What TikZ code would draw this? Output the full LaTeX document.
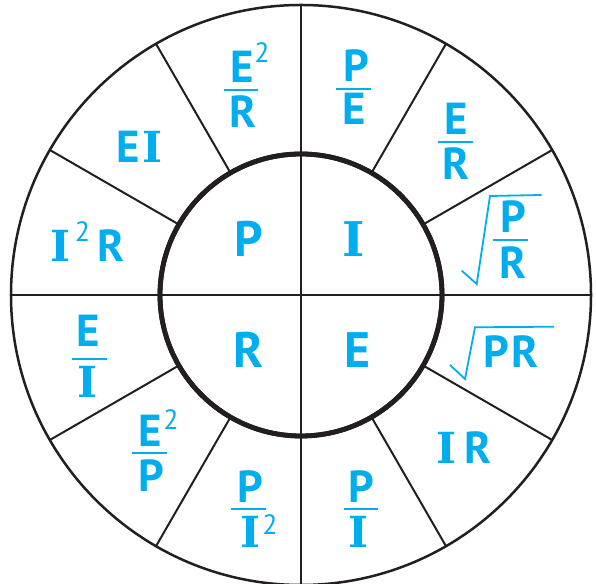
\documentclass[tikz,border=0pt]{standalone}
\usepackage{fontspec}
\setmainfont{PT Sans}
\newfontfamily\serifI{DejaVu Serif}
\definecolor{ohm}{RGB}{0,174,239}
\definecolor{ink}{RGB}{35,31,32}
\tikzset{
  ring/.style={circle, draw=ink, inner sep=0pt, outer sep=0pt},
  divider/.style={draw=ink, line width=2bp},
  let/.style={text=ohm, inner sep=0pt, anchor=base, font=\bfseries\fontsize{45}{45}\selectfont},
  bigl/.style={let, font=\bfseries\fontsize{50}{50}\selectfont},
  seri/.style={text=ohm, inner sep=0pt, anchor=base, font=\serifI\bfseries\fontsize{43}{43}\selectfont},
  bigseri/.style={seri, font=\serifI\bfseries\fontsize{48}{48}\selectfont},
  sq/.style={text=ohm, inner sep=0pt, anchor=base, font=\fontsize{28}{28}\selectfont},
  fbar/.style={draw=ohm, line width=2.8bp},
  rad/.style={draw=ohm, line width=1.8bp, line join=miter},
}
\begin{document}
\begin{tikzpicture}[x=1bp, y=1bp]
\useasboundingbox (0,0) rectangle (596,584);
\fill[white] (0,0) rectangle (596,584);
\coordinate (O) at (301,289);
% rings
\node[ring, line width=2.5bp, minimum size=580bp] (outer) at (O) {};
\node[ring, line width=4.8bp, minimum size=282bp] (inner) at (O) {};
% dividers
\draw[divider] (outer.west) -- (outer.east);
\draw[divider] (outer.north) -- (outer.south);
\foreach \a in {30,60,120,150,210,240,300,330}
  \draw[divider] (inner.\a) -- (outer.\a);
% redraw inner ring on top
\node[ring, line width=4.8bp, minimum size=282bp] (innertop) at (O) {};
% inner letters
\node[bigl] (P0) at (249,327) {P};
\node[bigseri] (I0) at (354,327) {I};
\node[bigl] (R0) at (248.5,216) {R};
\node[bigl] (E0) at (357.5,216) {E};
% E^2/R
\node[let] (erE) at (242,501) {E};
\node[sq] (er2) at (262,521) {2};
\draw[fbar] (224,494) -- (258,494);
\node[let] (erR) at (243,456) {R};
% P/E
\node[let] (peP) at (356,502) {P};
\draw[fbar] (336,495) -- (371,495);
\node[let] (peE) at (354.5,459) {E};
% E/R
\node[let] (e2E) at (456.5,449) {E};
\draw[fbar] (438,442) -- (473,442);
\node[let] (e2R) at (456,404) {R};
% EI
\node[let] (eiE) at (128.5,421) {E};
\node[seri] (eiI) at (153,421) {I};
% sqrt(P/R)
\node[let] (sprP) at (513.5,351) {P};
\draw[fbar] (493,344) -- (528,344);
\node[let] (sprR) at (513,305) {R};
\draw[rad] (461.7,313.3) -- (476.7,300) -- (490,388) -- (541.7,389);
% I^2R
\node[seri] (i2rI) at (60.5,322) {I};
\node[sq] (i2r2) at (82.5,342) {2};
\node[let] (i2rR) at (110.5,322) {R};
% E/I
\node[let] (eiE2) at (88,237) {E};
\draw[fbar] (72,225) -- (107,225);
\node[seri] (eiI2) at (87.5,186) {I};
% sqrt(PR)
\node[let] (sqP) at (496.5,216) {P};
\node[let] (sqR) at (524.5,216) {R};
\draw[rad] (450,219) -- (465,205) -- (475,256.7) -- (554,257.3);
% E^2/P
\node[let] (epE) at (150,137) {E};
\node[sq] (ep2) at (171,154) {2};
\draw[fbar] (132,131) -- (167,131);
\node[let] (epP) at (151.5,92) {P};
% IR
\node[seri] (irI) at (447,120) {I};
\node[let] (irR) at (478,120) {R};
% P/I^2
\node[let] (pi2P) at (250,81) {P};
\draw[fbar] (231,75) -- (266,75);
\node[seri] (pi2I) at (250.5,36) {I};
\node[sq] (pi22) at (270,49) {2};
% P/I
\node[let] (piP) at (361,81) {P};
\draw[fbar] (344,75) -- (378,75);
\node[seri] (piI) at (358.5,36) {I};
\end{tikzpicture}
\end{document}
